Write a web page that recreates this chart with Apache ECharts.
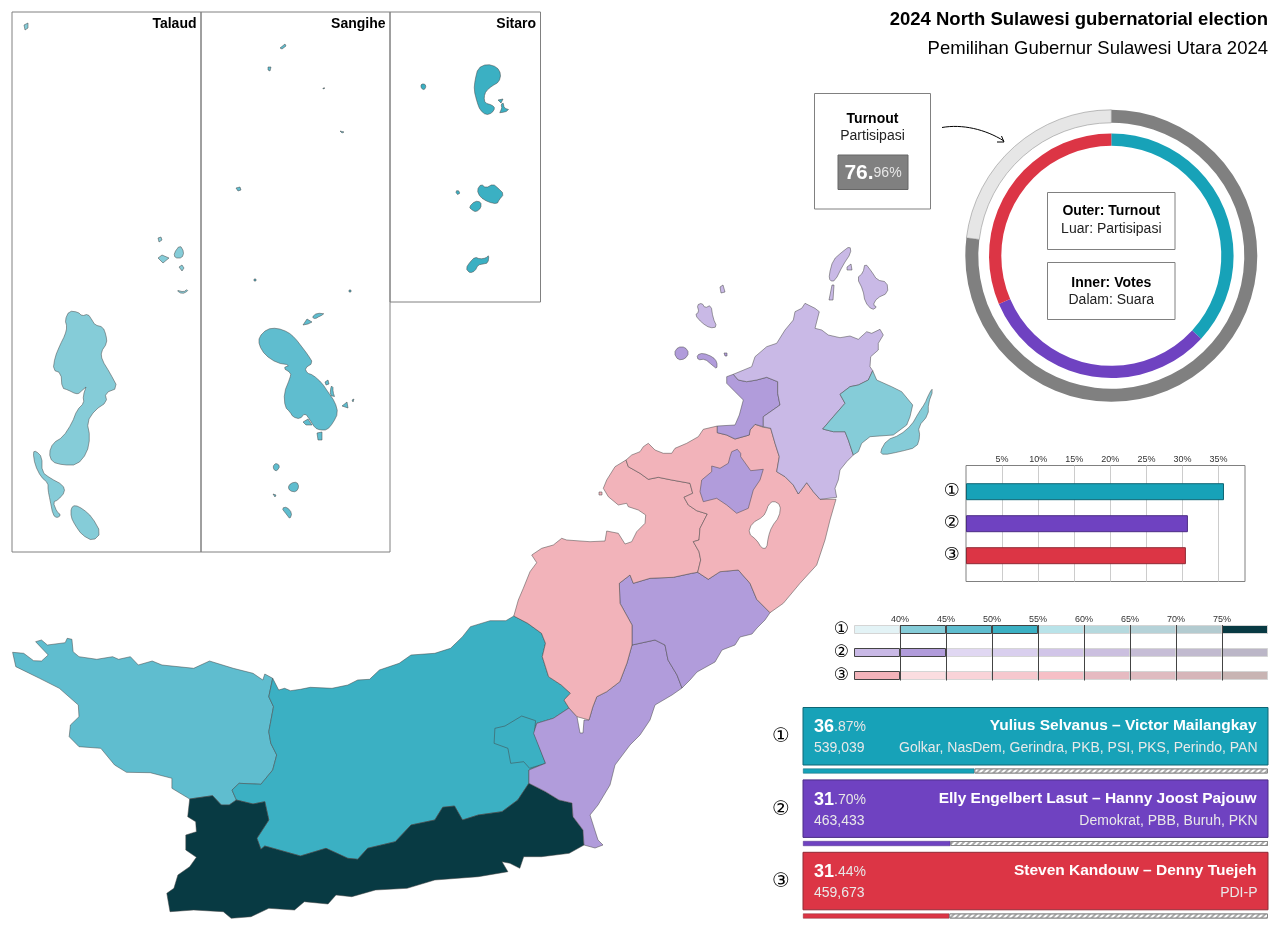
<!DOCTYPE html>
<html>
<head>
<meta charset="utf-8">
<title>2024 North Sulawesi gubernatorial election</title>
<style>
    html, body { margin: 0; padding: 0; background: #fff; }
    #main { width: 1280px; height: 931px; }
</style>
<script src="https://cdn.jsdelivr.net/npm/echarts@6/dist/echarts.min.js"></script>
</head>
<body>
<div id="main"></div>
<script>
// Vote results
const candidateNames = ['Yulius Selvanus – Victor Mailangkay', 'Elly Engelbert Lasut – Hanny Joost Pajouw', 'Steven Kandouw – Denny Tuejeh'];
const candidateParties = ['Golkar, NasDem, Gerindra, PKB, PSI, PKS, Perindo, PAN', 'Demokrat, PBB, Buruh, PKN', 'PDI-P'];
const candidateMarks = ['①', '②', '③'];
const voteShares = [36.87, 31.70, 31.44];
const voteCounts = ['539,039', '463,433', '459,673'];
const turnout = 76.96;
// the small bar chart does not sit exactly on its own gridlines, these are read off the gridlines
const plottedBars = [35.75, 30.75, 30.47];

// Colour scale legend, one row per candidate, one cell per 5% bin from 35% to 80%
const binStarts = [35, 40, 45, 50, 55, 60, 65, 70, 75];
const scaleTeal = ['#e3f3f6', '#85ccd8', '#5fbdcf', '#3bb0c3', '#b9e3e9', '#b5d9de', '#b5d2d8', '#b3cbd0', '#083a43'];
const scalePurple = ['#c9b9e6', '#b19cdb', '#e0d7f2', '#d9cfee', '#d1c5e8', '#cbbfdf', '#c6bdd6', '#c1bacf', '#bbb6c7'];
const scaleRed = ['#f2b3ba', '#fbdde0', '#f9d3d8', '#f6c8ce', '#f6bfc6', '#e6bac1', '#dfbbc0', '#d6b5b9', '#c8b4b3'];
const scales = [scaleTeal, scalePurple, scaleRed];
const binsInUse = [[40, 45, 50], [35, 40], [35]];

const mainColors = ['#17a2b8', '#6f42c1', '#dc3545'];
const edgeColors = ['#0f6674', '#4c2d86', '#8f2a35'];

// Map outlines
const talaudMain = [[65,320],[69,311],[78,312],[82,316],[88,314],[92,320],[95,325],[103,327],[106,335],[107,343],[101,352],[102,360],[110,373],[118,388],[105,393],[107,402],[95,410],[87,422],[90,437],[87,453],[77,465],[63,465],[52,462],[49,453],[53,443],[63,437],[72,423],[77,410],[84,403],[83,396],[87,384],[80,393],[76,394],[68,390],[62,388],[61,373],[53,370],[55,357],[60,345],[65,335],[67,327]];
const talaudSalibabu = [[33,452],[36,451],[42,457],[42,472],[50,478],[63,485],[65,492],[58,500],[53,502],[57,512],[61,515],[57,518],[53,515],[50,500],[48,490],[48,483],[41,477],[35,465]];
const talaudKabaruan = [[71,508],[75,505],[83,509],[92,517],[101,533],[93,541],[82,535],[75,525],[71,517]];
const talaudSmall = [
    [[174,253],[180,245],[184,252],[182,258],[175,258]],
    [[158,258],[162,255],[169,258],[163,263]],
    [[179,267],[182,265],[184,268],[182,271]],
    [[158,238],[161,237],[162,240],[159,242]],
    [[176,290],[184,292],[187,289],[188,291],[182,294]],
    [[24,25],[28,23],[28,28],[25,30]]
];
const sangiheMain = [[259,337],[267,329],[277,328],[288,332],[295,338],[302,347],[308,355],[313,363],[305,368],[307,373],[313,375],[322,383],[328,392],[335,402],[338,413],[333,423],[327,430],[320,430],[315,428],[310,420],[305,413],[300,419],[293,417],[290,412],[285,407],[284,393],[290,378],[291,373],[283,368],[290,365],[277,363],[265,355],[259,345]];
const sangiheSmall = [
    [[303,325],[307,319],[312,322],[308,324]],
    [[312,317],[317,313],[326,314],[320,316],[315,319]],
    [[325,382],[328,380],[329,384],[326,385]],
    [[331,386],[333,386],[333,392],[335,398],[330,395]],
    [[342,406],[347,402],[348,408]],
    [[352,400],[354,399],[353,402]],
    [[317,433],[322,432],[322,440],[318,440]],
    [[303,422],[308,419],[312,425],[306,425]],
    [[273,466],[276,463],[280,466],[277,471],[274,470]],
    [[288,487],[291,483],[297,482],[299,487],[296,492],[290,491]],
    [[273,494],[276,495],[275,497]],
    [[282,508],[287,507],[292,513],[290,519],[287,515],[283,510]],
    [[254,279],[256,279],[256,281],[254,281]],
    [[349,290],[351,290],[351,292],[349,292]],
    [[280,48],[285,44],[286,46],[282,49]],
    [[268,67],[271,67],[270,71],[268,70]],
    [[323,88],[325,88],[325,89],[323,89]],
    [[340,131],[344,132],[342,133]],
    [[236,188],[240,187],[241,190],[238,191]]
];
const sitaroMain = [[487,64],[497,67],[501,74],[499,82],[492,86],[486,91],[484,97],[485,103],[492,105],[495,108],[492,113],[486,115],[480,110],[477,102],[474,90],[475,80],[478,68]];
const sitaroSmall = [
    [[421,84],[425,84],[426,87],[424,90],[421,88]],
    [[498,100],[503,99],[501,103]],
    [[501,104],[504,103],[504,108],[510,110],[505,112],[498,113],[502,109]],
    [[477,190],[481,184],[486,188],[493,184],[498,188],[504,194],[499,200],[497,204],[488,202],[480,197]],
    [[469,207],[475,201],[481,202],[481,208],[476,212],[472,210]],
    [[456,191],[458,190],[460,193],[458,195],[456,193]],
    [[466,268],[470,262],[475,257],[480,259],[486,258],[489,255],[488,263],[483,264],[478,265],[475,271],[470,273],[467,270]]
];
const westRegion = [[12.6,652.3],[23.7,653.3],[33.6,660.7],[41.5,661],[48.2,655],[35.6,641.7],[41.5,640],[47.4,645],[65.2,642.7],[67.2,638.3],[71.9,639.3],[73.1,651.7],[79,656.7],[96.8,659.3],[112.6,656.7],[118.6,659.3],[130.4,656.7],[138.3,665],[152.2,661],[162,665],[193.7,668.3],[209.5,661],[233.2,668.3],[253,673.3],[262.8,680],[264.8,674],[272.7,678.3],[268.8,696.7],[273.5,706.7],[268.8,731.7],[270.8,743.3],[276.7,755],[272.7,770],[260.9,784.3],[239.1,783.3],[232,790],[236.4,800],[229.2,805],[221.3,805],[212.6,795.7],[189.7,799],[171.9,788.3],[171.9,778.3],[150.2,772.7],[126.5,772.3],[114.6,765],[100.8,748.3],[79,746.7],[69.2,736.7],[70.4,725],[79,716.7],[78.3,705],[59.3,688.3],[39.5,678.3],[15.8,666.7]];
const centralRegion = [[272.7,678.3],[278.7,690],[284.6,688.3],[290.5,690.7],[300.4,689.3],[310.3,687.3],[332,688.3],[347.8,685],[357.7,680],[369.6,679.3],[379.4,670],[399.2,663.3],[411,655],[434.8,653.3],[450.6,648.3],[462.5,636.7],[470.4,626.7],[490.1,620.7],[505.9,620.7],[513.8,616],[527.7,623.3],[541.5,633.3],[545.5,643.3],[542.3,656.7],[548.6,676.7],[561.3,685],[570.4,693.3],[564,700],[569,708],[553.4,718.3],[536.8,723.3],[533.6,733.3],[545.5,763.3],[528.9,770],[528.9,783.3],[517.8,800],[502,811.7],[478.3,815],[462.5,820],[454.5,806],[442.7,807.3],[434.8,820],[411,825],[395.3,841.7],[367.6,848.3],[357.7,859.3],[347.8,858.3],[326,848.3],[300.4,856],[264.8,846],[260.9,849.3],[256.9,838.3],[268.8,820],[264.8,801.7],[253,804],[236.4,800],[232,790],[239.1,783.3],[260.9,784.3],[272.7,770],[276.7,755],[270.8,743.3],[268.8,731.7],[273.5,706.7],[268.8,696.7]];
const enclaveRegion = [[494.9,728.3],[505,726],[521.7,716],[535.6,720.7],[534.4,733.3],[545.5,763.3],[529.6,768.3],[523.7,761.7],[510.7,763.3],[507.9,748.3],[494.1,743.3]];
const southRegion = [[189.7,799],[212.6,795.7],[221.3,805],[229.2,805],[236.4,800],[253,804],[264.8,801.7],[268.8,820],[256.9,838.3],[260.9,849.3],[264.8,846],[300.4,856],[326,848.3],[347.8,858.3],[357.7,859.3],[367.6,848.3],[395.3,841.7],[411,825],[434.8,820],[442.7,807.3],[454.5,806],[462.5,820],[478.3,815],[502,811.7],[517.8,800],[528.9,783.3],[545.5,791.7],[559,800],[572,803],[573,816.7],[583,830],[584,845],[569.2,853.3],[541.5,856.7],[523.7,856.7],[519.8,868.3],[509.9,863.3],[502,861.7],[507.9,871.7],[478.3,876.7],[434.8,880],[407.1,888.3],[375.5,890],[351.8,896.7],[336,895],[328,904],[304.3,901.7],[294.5,910],[268.8,908.3],[251,916.7],[231.2,918.3],[223.3,911.7],[193.7,910],[170,911.7],[166.8,893.3],[173.9,888.3],[177.9,875],[189.7,866.7],[196.4,857.3],[185.8,850],[185.8,835],[196.4,831.7],[195.7,821.7],[187.7,816.7]];
const southEastLower = [[632,645],[655,640],[665,645],[668,660],[677,675],[682,688],[672,695],[655,705],[650,720],[640,735],[630,745],[615,765],[610,785],[598,805],[590,815],[598,840],[603,845],[595,848],[584,845],[583,830],[573,816.7],[572,803],[559,800],[545.5,791.7],[528.9,783.3],[528.9,770],[545.5,763.3],[533.6,733.3],[536.8,723.3],[553.4,718.3],[569,708],[577,716.7],[580,733],[583,733],[584,720],[589,720],[592.9,706.7],[596.8,696.7],[606.7,691.7],[619.8,681.7],[627,663]];
const southEastUpper = [[630,575],[633.3,583.3],[650,578.3],[673.3,577.3],[691.7,573.3],[697.7,572.3],[708.3,579.3],[720,571.7],[738.3,570],[750,583.3],[756.7,599.3],[770,612.7],[765,620],[757,628],[752,634],[740,637],[735,645],[722,650],[715,662],[697,672],[690,680],[682,688],[677,675],[668,660],[665,645],[655,640],[632,645],[632,625],[620,603.3],[619.3,583.3]];
const westPink = [[626,460],[615,466.7],[606.7,480],[603.3,488.3],[608.3,496.7],[618.3,505],[626.7,503.3],[628.3,506.7],[638.3,510],[645.7,515],[645,523.3],[636.7,531.7],[631.7,541.7],[625,544],[618.3,533.3],[606.7,531],[605,541],[590,541.7],[566.7,540],[561.7,538.3],[553.3,545],[541.7,548.3],[531.7,555],[536.7,562.7],[530,571.7],[523.3,588.3],[518.3,600],[513.8,616],[527.7,623.3],[541.5,633.3],[545.5,643.3],[542.3,656.7],[548.6,676.7],[561.3,685],[570.4,693.3],[564,700],[569,708],[577,716.7],[589,720],[592.9,706.7],[596.8,696.7],[606.7,691.7],[619.8,681.7],[627,663],[632,645],[632,625],[620,603.3],[619.3,583.3],[630,575],[633.3,583.3],[650,578.3],[673.3,577.3],[691.7,573.3],[697.7,572.3],[700.7,560],[699,551.7],[693.3,541.7],[699,540],[700,528.3],[707.3,514],[696.7,510.7],[688.3,505],[684,497.3],[692.7,493.3],[690,483.3],[671.7,480],[658.3,477.3],[648.3,479.3],[640,473.3],[628.3,466.7]];
const westPinkIslet = [[599,492],[602,492],[602,495],[599,495]];
const eastPink = [[717.3,426],[703.3,429.3],[698.3,436.7],[686.7,443.3],[675,448.3],[671.7,453.3],[663.3,453.3],[655,450],[648.3,443.3],[643.3,446.7],[640,451.7],[631.7,455],[626,460],[628.3,466.7],[640,473.3],[648.3,479.3],[658.3,477.3],[671.7,480],[690,483.3],[692.7,493.3],[684,497.3],[688.3,505],[696.7,510.7],[707.3,514],[700,528.3],[699,540],[693.3,541.7],[699,551.7],[700.7,560],[697.7,572.3],[708.3,579.3],[720,571.7],[738.3,570],[750,583.3],[756.7,599.3],[770,612.7],[783.3,603.3],[800,583.3],[816.7,565],[825,540],[830,520],[836,499.3],[820,499.3],[813.3,491.7],[806.7,482.7],[798.3,494],[793.3,485],[785,476.7],[776.7,471.7],[779.3,456.7],[775,443.3],[770.7,428.3],[763.3,427.3],[755,424.3],[750,430],[749.3,435],[735,439],[726.7,435],[717.3,432.7]];
const lakeTondano = [[768.3,505],[773.3,500.7],[780.7,505],[779.3,516.7],[771.7,526.7],[768.3,536.7],[766.7,548.3],[761.7,548.3],[756.7,540],[748.3,533.3],[751.7,523.3],[763.3,516.7],[766.7,510]];
const tomohon = [[730,456.7],[731.7,451.7],[737.3,449.3],[740.7,453.3],[740.7,456.7],[750.7,470.7],[763.3,469.3],[760,480],[753.3,490],[748.3,508.3],[736.7,513.3],[726.7,505],[716.7,498.3],[703.3,501.7],[700,491.7],[701.7,480],[711.7,471.7],[711.7,466],[720,468.3],[728.3,463.3]];
const manadoMain = [[726.7,376.7],[733.3,374.3],[738.3,380],[746.7,381.7],[756.7,380],[766.7,377.3],[777.7,381.7],[777.7,393.3],[780,405],[763.3,416.7],[763.3,426.7],[755,424.3],[750,430],[749.3,435],[735,439],[726.7,435],[717.3,432.7],[717.3,426],[735,425],[739.3,415],[743.3,400],[735,391.7],[726.7,383.3]];
const manadoIslands = [
    [[674,353],[678,347],[685,347],[689,353],[685,359],[678,360]],
    [[697,355],[703,353],[713,357],[717,362],[717,369],[712,365],[705,359],[698,360]],
    [[724,353],[727,353],[727,356],[725,356]]
];
const minutMain = [[733.3,374.3],[751.7,366.7],[755,356.7],[766.7,346.7],[776.7,343.3],[785,330],[793.3,320],[795,311.7],[801.7,308.3],[805,303.3],[815,308.3],[819.3,311.7],[815,328.3],[821.7,330],[828.3,335],[840,337.7],[850,336],[858.3,339.3],[866.7,331.7],[871.7,333.3],[880,329.3],[883.3,335],[878.3,343.3],[878.3,350],[870.7,356.7],[870,366.7],[872.7,370.7],[868.3,380],[858.3,385],[850,386.7],[840,394.3],[845,403.3],[833.3,416.7],[822.7,429],[833.3,431.7],[845,431.7],[848.3,440],[853.3,455],[846.7,461.7],[840,470],[838.3,480],[835,488.3],[836.7,497.3],[820,499.3],[813.3,491.7],[806.7,482.7],[798.3,494],[793.3,485],[785,476.7],[776.7,471.7],[779.3,456.7],[775,443.3],[770.7,428.3],[763.3,426.7],[763.3,416.7],[780,405],[777.7,393.3],[777.7,381.7],[766.7,377.3],[756.7,380],[746.7,381.7],[738.3,380]];
const minutIslands = [
    [[850,246],[851,253],[843,265],[835,281],[830,281],[829,275],[833,260],[842,252]],
    [[865,263],[872,272],[877,280],[887,282],[888,293],[877,298],[873,305],[877,307],[872,310],[865,302],[863,290],[857,278],[863,273]],
    [[847,267],[851,264],[852,270],[847,270]],
    [[832,285],[834,285],[833,300],[829,300]],
    [[720,287],[723,285],[725,292],[721,293]],
    [[697,305],[702,303],[705,308],[711,305],[713,318],[717,327],[710,328],[702,323],[695,315],[699,312]]
];
const bitungMain = [[872.7,370.7],[876.7,380],[891.7,386.7],[901.7,391.7],[912.7,405],[910,416.7],[906.7,425],[893.3,435],[870,436.7],[861.7,443.3],[858.3,451.7],[853.3,455],[848.3,440],[845,431.7],[833.3,431.7],[822.7,429],[833.3,416.7],[845,403.3],[840,394.3],[850,386.7],[858.3,385],[868.3,380]];
const bitungLembeh = [[931.7,389],[933.3,390],[928.3,403.3],[928.3,415],[918.3,426.7],[920,436.7],[916.7,447.3],[900,451.7],[883.3,455],[880,451.7],[886.7,440],[900,435],[911.7,425],[918.3,413.3],[925,403.3],[927.7,396.7]];

// region name, winner index, bin start, outline rings
const regionNames = ['Talaud', 'Sangihe', 'Sitaro', 'Bolaang Mongondow Utara', 'Bolaang Mongondow', 'Kotamobagu', 'Bolaang Mongondow Selatan', 'Minahasa Selatan', 'Minahasa Tenggara', 'Minahasa Barat', 'Minahasa', 'Tomohon', 'Manado', 'Minahasa Utara', 'Bitung'];
const regionWinners = [0, 0, 0, 0, 0, 0, 0, 1, 1, 2, 2, 1, 1, 1, 0];
const regionBins = [40, 45, 50, 45, 50, 50, 75, 40, 40, 35, 35, 40, 40, 35, 40];
const regionParts = [
    [talaudMain, talaudSalibabu, talaudKabaruan].concat(talaudSmall),
    [sangiheMain].concat(sangiheSmall),
    [sitaroMain].concat(sitaroSmall),
    [westRegion],
    [centralRegion],
    [enclaveRegion],
    [southRegion],
    [southEastLower],
    [southEastUpper],
    [westPink, westPinkIslet],
    [eastPink],
    [tomohon],
    [manadoMain].concat(manadoIslands),
    [minutMain].concat(minutIslands),
    [bitungMain, bitungLembeh]
];

const FONT = '"Liberation Sans", Arial, sans-serif';
const MARK_FONT = '"DejaVu Sans", sans-serif';
const LAKE = 'Danau Tondano';

// Cut the corners of an island outline, the traced points are too sparse for round coasts
function roundRing(points) {
    const out = [];
    points.forEach((p, i) => {
        const q = points[(i + 1) % points.length];
        out.push([p[0] * 0.75 + q[0] * 0.25, p[1] * 0.75 + q[1] * 0.25]);
        out.push([p[0] * 0.25 + q[0] * 0.75, p[1] * 0.25 + q[1] * 0.75]);
    });
    return out;
}

function toRing(points) {
    const ring = points.map(p => [p[0], -p[1]]);
    ring.push(ring[0]);
    return ring;
}

function buildGeoJson() {
    const features = regionNames.map((name, i) => {
        const isIslands = i < 3;
        const polygons = regionParts[i].map((part, p) => {
            // on the mainland only the detached islands get rounded, shared borders must stay put
            const round = isIslands || p > 0;
            return [toRing(round && part.length > 4 ? roundRing(part) : part)];
        });
        return {
            type: 'Feature',
            properties: { name: name },
            geometry: { type: 'MultiPolygon', coordinates: polygons }
        };
    });
    features.push({
        type: 'Feature',
        properties: { name: LAKE },
        geometry: { type: 'Polygon', coordinates: [toRing(roundRing(lakeTondano))] }
    });
    return { type: 'FeatureCollection', features: features };
}

// Boxes and text that are not part of any axis
function box(x, y, w, h, fill, stroke) {
    return {
        type: 'rect', silent: true,
        shape: { x: x, y: y, width: w, height: h },
        style: { fill: fill || 'none', stroke: stroke || '#808080', lineWidth: 1 }
    };
}

function label(text, x, y, size, opts) {
    opts = opts || {};
    return {
        type: 'text', silent: true, x: x, y: y + 1, z: 10,
        style: {
            text: text, fill: opts.color || '#000', align: opts.align || 'left', verticalAlign: 'middle',
            font: (opts.bold ? 'bold ' : '') + size + 'px ' + (opts.family || FONT), rich: opts.rich
        }
    };
}

function splitPercent(share) {
    const parts = share.toFixed(2).split('.');
    return '{big|' + parts[0] + '}{small|.' + parts[1] + '%}';
}

function buildGraphics() {
    const items = [
        // inset frames
        box(12, 12, 189, 540), box(201, 12, 189, 540), box(390, 12, 150.5, 290),
        label('Talaud', 196.5, 23, 14, { bold: true, align: 'right' }),
        label('Sangihe', 385.5, 23, 14, { bold: true, align: 'right' }),
        label('Sitaro', 536, 23, 14, { bold: true, align: 'right' }),
        // turnout box
        box(814.5, 93.5, 116, 115.5),
        label('Turnout', 872.5, 118, 14, { bold: true, align: 'center' }),
        label('Partisipasi', 872.5, 135, 14, { align: 'center', color: '#222' }),
        box(838, 155, 70, 34.5, '#808080', '#666'),
        label('{big|' + String(turnout).split('.')[0] + '.}{small|' + String(turnout).split('.')[1] + '%}', 873, 172.5, 14, {
            align: 'center',
            rich: {
                big: { font: 'bold 21px ' + FONT, fill: '#fff' },
                small: { font: '14px ' + FONT, fill: '#e6e6e6' }
            }
        }),
        // arrow from the turnout box to the ring
        {
            type: 'bezierCurve', silent: true,
            shape: { x1: 942, y1: 127.5, x2: 1004, y2: 141, cpx1: 962, cpy1: 124, cpx2: 985, cpy2: 129 },
            style: { stroke: '#000', lineWidth: 1, fill: 'none' }
        },
        {
            type: 'polyline', silent: true,
            shape: { points: [[997, 142], [1004, 142], [1001.5, 136]] },
            style: { stroke: '#000', lineWidth: 1, fill: 'none' }
        },
        // boxes inside the rings
        box(1047.5, 192.5, 127.5, 57),
        label('Outer: Turnout', 1111.3, 210.5, 14, { bold: true, align: 'center' }),
        label('Luar: Partisipasi', 1111.3, 228, 14, { align: 'center', color: '#222' }),
        box(1047.5, 262.5, 127.5, 57),
        label('Inner: Votes', 1111.3, 282, 14, { bold: true, align: 'center' }),
        label('Dalam: Suara', 1111.3, 299, 14, { align: 'center', color: '#222' })
    ];

    // candidate panels
    const markY = [736, 809, 881];
    candidateNames.forEach((name, i) => {
        const top = 707.5 + i * 72.4;
        items.push(box(803, top, 465, 57.5, mainColors[i], edgeColors[i]));
        items.push(label(candidateMarks[i], 781, markY[i], 20, { align: 'center', family: MARK_FONT }));
        items.push(label(splitPercent(voteShares[i]), 814, top + 19, 14, {
            rich: {
                big: { font: 'bold 18px ' + FONT, fill: '#fff' },
                small: { font: '14px ' + FONT, fill: '#e6e6e6' }
            }
        }));
        items.push(label(voteCounts[i], 814, top + 40, 14, { color: '#e9e9e9' }));
        items.push(label(name, 1256.5, top + 17.5, 15.5, { bold: true, align: 'right', color: '#fff' }));
        items.push(label(candidateParties[i], 1257.5, top + 40, 14, { align: 'right', color: '#e9e9e9' }));
    });
    return items;
}

// Legend cells, stacked so that each series is one 5% bin
function buildLegendSeries() {
    return binStarts.map((bin, b) => ({
        type: 'bar', xAxisIndex: 3, yAxisIndex: 3, stack: 'bins', barWidth: 9, silent: true,
        data: scales.map((row, r) => ({
            value: 5,
            itemStyle: {
                color: row[b],
                borderColor: binsInUse[r].includes(bin) ? '#444' : '#d5d5d5',
                borderWidth: 1
            }
        }))
    }));
}

// Share bars under the panels, the rest of the 100% is hatched
function buildShareSeries() {
    return [
        {
            type: 'bar', xAxisIndex: 4, yAxisIndex: 4, stack: 'share', barWidth: 5, silent: true, clip: false,
            data: voteShares.map((v, i) => ({ value: v, itemStyle: { color: mainColors[i], borderColor: edgeColors[i], borderWidth: 0.5 } }))
        },
        {
            type: 'bar', xAxisIndex: 4, yAxisIndex: 4, stack: 'share', barWidth: 5, silent: true, clip: false,
            data: voteShares.map(v => +(100 - v).toFixed(2)),
            itemStyle: {
                color: '#fff', borderColor: '#888', borderWidth: 1,
                decal: { symbol: 'rect', color: '#aaa', backgroundColor: '#fff', dashArrayX: [1, 0], dashArrayY: [2, 2], rotation: -Math.PI / 4, symbolSize: 1 }
            }
        }
    ];
}

const tickLabel = { color: '#333', fontSize: 9, fontFamily: FONT, margin: 1, formatter: '{value}%', showMinLabel: false, showMaxLabel: false };

const option = {
    animation: false,
    backgroundColor: '#fff',
    title: [
        {
            text: '2024 North Sulawesi gubernatorial election', right: 12, top: 10, padding: 0,
            textStyle: { fontFamily: FONT, fontSize: 18.5, fontWeight: 'bold', color: '#000' }
        },
        {
            text: 'Pemilihan Gubernur Sulawesi Utara 2024', right: 12, top: 39, padding: 0,
            textStyle: { fontFamily: FONT, fontSize: 18.5, fontWeight: 'normal', color: '#000' }
        }
    ],
    graphic: buildGraphics(),
    grid: [
        { left: 966, top: 465.5, width: 279, height: 116, show: true, borderColor: '#808080', borderWidth: 1, backgroundColor: 'transparent' },
        { left: 966, top: 475.7, width: 279, height: 96 },
        { left: 854, top: 625, width: 414, height: 55.5 },
        { left: 854, top: 618, width: 414, height: 69 },
        // boundaryGap is off on this one: the rows sit on the grid edges, the band version would run off the page
        { left: 803, top: 771, width: 465, height: 145 }
    ],
    xAxis: [
        {
            gridIndex: 0, type: 'value', min: 0, max: 38.66, interval: 5, position: 'top',
            axisLine: { show: false }, axisTick: { show: false }, axisLabel: tickLabel,
            splitLine: { show: true, showMinLine: false, showMaxLine: false, lineStyle: { color: '#ccc', width: 1 } }
        },
        { gridIndex: 1, type: 'value', min: 0, max: 38.66, show: false },
        {
            gridIndex: 2, type: 'value', min: 35, max: 80, interval: 5, position: 'top', z: 5,
            axisLine: { show: false }, axisTick: { show: false }, axisLabel: tickLabel,
            splitLine: { show: true, showMinLine: false, showMaxLine: false, lineStyle: { color: '#444', width: 1 } }
        },
        // counts bin widths from the left end of the legend, stacks always start at zero
        { gridIndex: 3, type: 'value', min: 0, max: 45, show: false },
        { gridIndex: 4, type: 'value', min: 0, max: 100, show: false }
    ],
    yAxis: [
        { gridIndex: 0, type: 'value', show: false },
        {
            gridIndex: 1, type: 'category', inverse: true, data: candidateMarks,
            axisLine: { show: false }, axisTick: { show: false },
            axisLabel: { color: '#000', fontSize: 18, fontFamily: MARK_FONT, margin: 6 }
        },
        { gridIndex: 2, type: 'value', show: false },
        {
            gridIndex: 3, type: 'category', inverse: true, data: candidateMarks,
            axisLine: { show: false }, axisTick: { show: false },
            axisLabel: { color: '#000', fontSize: 17, fontFamily: MARK_FONT, margin: 5 }
        },
        { gridIndex: 4, type: 'category', inverse: true, boundaryGap: false, data: candidateMarks, show: false }
    ],
    series: [
        {
            type: 'map', map: 'northSulawesi', silent: true,
            aspectScale: 1, roam: false,
            boundingCoords: [[0, 0], [1280, -931]],
            left: 0, top: 0, width: 1280, height: 931,
            label: { show: false },
            itemStyle: { borderColor: '#444', borderWidth: 0.5 },
            data: regionNames.map((name, i) => ({
                name: name,
                value: regionBins[i],
                itemStyle: { areaColor: scales[regionWinners[i]][binStarts.indexOf(regionBins[i])] }
            })).concat([{ name: LAKE, itemStyle: { areaColor: '#fff' } }])
        },
        {
            type: 'pie', silent: true, center: [1111.3, 255.8], radius: [133, 146], startAngle: 90,
            label: { show: false },
            data: [
                { value: turnout, itemStyle: { color: '#808080' } },
                { value: +(100 - turnout).toFixed(2), itemStyle: { color: '#e6e6e6', borderColor: '#808080', borderWidth: 0.5 } }
            ]
        },
        {
            type: 'pie', silent: true, center: [1111.3, 255.8], radius: [110, 122.3], startAngle: 90,
            label: { show: false },
            data: voteShares.map((v, i) => ({ value: v, itemStyle: { color: mainColors[i] } }))
        },
        {
            type: 'bar', xAxisIndex: 1, yAxisIndex: 1, barWidth: 17, silent: true,
            data: plottedBars.map((v, i) => ({ value: v, itemStyle: { color: mainColors[i], borderColor: edgeColors[i], borderWidth: 1 } }))
        }
    ].concat(buildLegendSeries(), buildShareSeries())
};

echarts.registerMap('northSulawesi', buildGeoJson());
const chart = echarts.init(document.getElementById('main'), null, { renderer: 'canvas' });
chart.setOption(option);
</script>
</body>
</html>
